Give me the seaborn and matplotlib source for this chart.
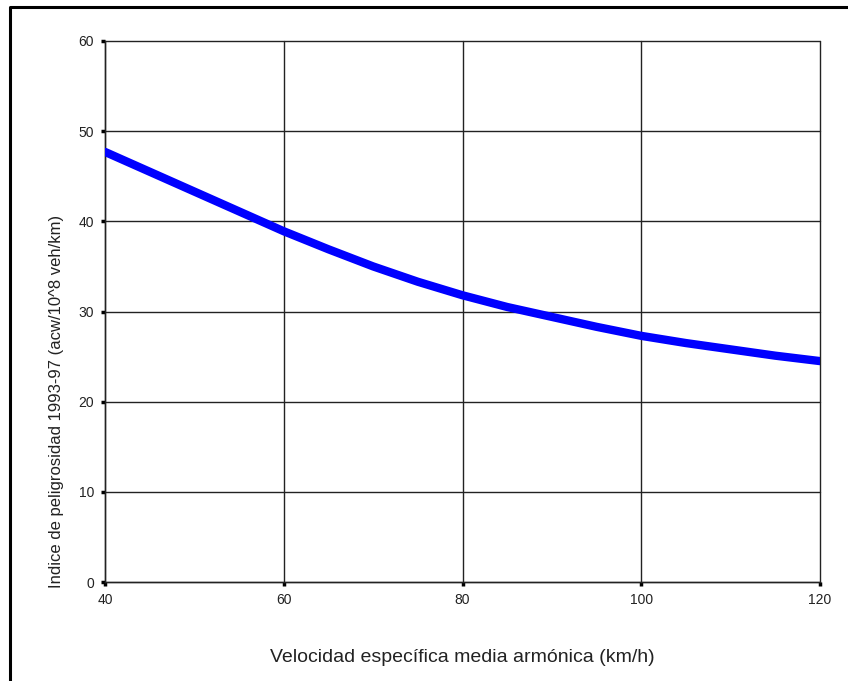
import matplotlib
matplotlib.use("Agg")
import matplotlib.pyplot as plt
from matplotlib.lines import Line2D
import pandas as pd
import seaborn as sns

# values
velocidad = [40, 45, 50, 55, 60, 65, 70, 75, 80, 85, 90, 95, 100, 105, 110, 115, 120]
indice = [47.7, 45.5, 43.3, 41.1, 38.9, 36.9, 35.0, 33.3, 31.8, 30.5, 29.4, 28.3,
          27.3, 26.5, 25.8, 25.1, 24.5]

x_ticks = [40, 60, 80, 100, 120]
y_ticks = [0, 10, 20, 30, 40, 50, 60]

df = pd.DataFrame({"velocidad": velocidad, "indice": indice})

sns.set_style("white")
plt.rcParams['font.family'] = ['Liberation Sans', 'DejaVu Sans']

fig = plt.figure(figsize=(8.48, 6.81), dpi=100)
ax = fig.add_axes([105 / 848, 1 - 582 / 681, (820 - 105) / 848, (582 - 41) / 681])

sns.lineplot(data=df, x="velocidad", y="indice", ax=ax, color="#0000ff",
             linewidth=6.0, zorder=3)

ax.set_xlim(40, 120)
ax.set_ylim(0, 60)
ax.set_xticks(x_ticks)
ax.set_yticks(y_ticks)
ax.grid(True, color="#222222", linewidth=1.0)
ax.set_axisbelow(True)
for gl in ax.get_xgridlines() + ax.get_ygridlines():
    gl.set_clip_on(False)

for side in ["top", "right"]:
    ax.spines[side].set_visible(False)
for side in ["left", "bottom"]:
    ax.spines[side].set_color("#222222")
    ax.spines[side].set_linewidth(1.0)

ax.tick_params(axis="both", which="both", direction="out", length=3, width=2.5,
               color="black", labelsize=10, labelcolor="#222222", pad=5,
               left=True, bottom=True)

ax.set_xlabel("Velocidad específica media armónica (km/h)", fontsize=14,
              color="#222222", labelpad=30)
ax.set_ylabel("Indice de peligrosidad 1993-97 (acw/10^8 veh/km)", fontsize=12,
              color="#222222")
# label sits lower than the axis centre in the reference
ax.yaxis.set_label_coords(-0.057, 0.333)

# outer frame (only left and top edges visible in the reference)
fig.add_artist(Line2D([9.5 / 848, 9.5 / 848, 1.0], [0.0, 1 - 7 / 681, 1 - 7 / 681],
                      transform=fig.transFigure, color="black", linewidth=2.2))

fig.savefig("out.png", dpi=100)
